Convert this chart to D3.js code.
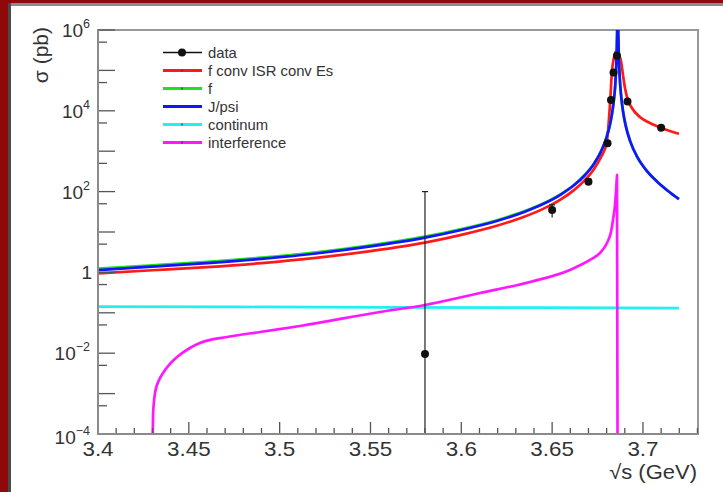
<!DOCTYPE html>
<html>
<head>
<meta charset="utf-8">
<script src="https://cdn.jsdelivr.net/npm/d3@7"></script>
<style>
  html, body { margin: 0; padding: 0; background: #fff; }
  svg { display: block; }
  text { font-family: "Liberation Sans", Arial, Helvetica, sans-serif; fill: #333; }
</style>
</head>
<body>
<svg id="chart" width="723" height="492"></svg>
<script>
// ---- measured cross sections (pb) ----
const dataX   = [3.58, 3.65, 3.67, 3.6805, 3.6824, 3.6838, 3.6857, 3.6915, 3.71];
const dataY   = [0.0095, 35, 176, 1570, 18500, 89000, 231000, 17000, 3820];
const dataErr = [100, 12, 30, 180, 1800, 7000, 16000, 1600, 450];

// ---- f conv ISR conv Es (red) ----
const fitX = [3.400, 3.430, 3.460, 3.490, 3.520, 3.550, 3.580, 3.600, 3.620, 3.635,
              3.645, 3.655, 3.662, 3.668, 3.673, 3.677, 3.680, 3.6820, 3.6829, 3.6840,
              3.6851, 3.6860, 3.6868, 3.6879, 3.6890, 3.6901, 3.6917, 3.6939, 3.6983, 3.7038,
              3.7097, 3.7148, 3.7198];
const fitY = [0.95, 1.13, 1.35, 1.70, 2.29, 3.37, 5.48, 8.51, 14.5, 24.2,
              37.3, 65.2, 109, 193, 359, 728, 1590, 18500, 91200, 203000,
              302000, 302000, 240000, 171000, 76900, 36600, 18500, 11700, 7030, 4990,
              3820, 3160, 2690];

// ---- f (green) ----
const fX = [3.400, 3.430, 3.460, 3.490, 3.520, 3.550, 3.580, 3.600, 3.620, 3.635,
            3.645, 3.655, 3.662, 3.668, 3.673, 3.677, 3.680, 3.682, 3.6835, 3.685,
            3.6855, 3.6858, 3.6861, 3.6864, 3.6867, 3.6872, 3.688, 3.689, 3.6905, 3.693,
            3.697, 3.702, 3.708, 3.714, 3.7198];
const fY = [1.24, 1.50, 1.83, 2.32, 3.14, 4.68, 7.65, 11.8, 19.9, 33.0,
            50.8, 88.3, 146, 258, 490, 1015, 2240, 4950, 12300, 68700,
            231000, 925000, 3000000, 925000, 231000, 68700, 23000, 9890, 4300, 1750,
            700, 329, 173, 102, 65];

// ---- J/psi (blue) ----
const jpsiX = [3.400, 3.430, 3.460, 3.490, 3.520, 3.550, 3.580, 3.600, 3.620, 3.635,
               3.645, 3.655, 3.662, 3.668, 3.673, 3.677, 3.680, 3.682, 3.6835, 3.685,
               3.6855, 3.6858, 3.6861, 3.6864, 3.6867, 3.6872, 3.688, 3.689, 3.6905, 3.693,
               3.697, 3.702, 3.708, 3.714, 3.7198];
const jpsiY = [1.14, 1.39, 1.70, 2.16, 2.94, 4.39, 7.23, 11.2, 19.0, 31.8,
               49.2, 85.9, 143, 254, 484, 1005, 2234, 4940, 12300, 68700,
               231000, 925000, 3000000, 925000, 231000, 68700, 23000, 9890, 4300, 1750,
               700, 329, 173, 102, 65];

// ---- continuum (cyan) ----
const contX = [3.400, 3.56, 3.7198];
const contY = [0.142, 0.137, 0.131];

// ---- interference (magenta) ----
const intfX = [3.4296, 3.4303, 3.4314, 3.4336, 3.4358, 3.4396, 3.4435, 3.4506, 3.4561, 3.4710,
               3.4892, 3.5112, 3.5552, 3.5800, 3.6103, 3.6378, 3.6598, 3.6708, 3.6763, 3.6802,
               3.6824, 3.6835, 3.6846, 3.6854, 3.6857, 3.6861];
const intfY = [1e-6, 2.95e-4, 1.04e-3, 2.17e-3, 3.24e-3, 5.41e-3, 8.05e-3, 0.01346, 0.01786, 0.0252,
               0.0335, 0.0471, 0.1047, 0.156, 0.309, 0.578, 1.15, 2.03, 3.02, 5.35,
               10, 19.8, 46.6, 146, 258, 1e-6];

// ---- axes ----
const xDomain = [3.4, 3.7303];
const yDomain = [1e-4, 1e6];
const xMajorTicks = [3.4, 3.45, 3.5, 3.55, 3.6, 3.65, 3.7];
const xTickLabels = ["3.4", "3.45", "3.5", "3.55", "3.6", "3.65", "3.7"];
const xMinorTicks = [3.41, 3.42, 3.43, 3.44, 3.46, 3.47, 3.48, 3.49, 3.51, 3.52, 3.53, 3.54,
                     3.56, 3.57, 3.58, 3.59, 3.61, 3.62, 3.63, 3.64, 3.66, 3.67, 3.68, 3.69,
                     3.71, 3.72, 3.73];
const yLabelExponents = [-4, -2, 0, 2, 4, 6];
const yDecadeExponents = [-4, -3, -2, -1, 0, 1, 2, 3, 4, 5, 6];

const legendNames = ["data", "f conv ISR conv Es", "f", "J/psi", "continum", "interference"];

// ---- layout ----
const svg = d3.select("#chart");
const W = 723, H = 492;
const plot = { left: 98, right: 698, top: 30, bottom: 434 };

const x = d3.scaleLinear().domain(xDomain).range([plot.left, plot.right]);
const y = d3.scaleLog().domain(yDomain).range([plot.bottom, plot.top]);

// page frame
svg.append("rect").attr("x", 0).attr("y", 0).attr("width", W).attr("height", H).attr("fill", "#fff");
svg.append("rect").attr("x", 0).attr("y", 0).attr("width", W).attr("height", 3).attr("fill", "#8e0a0a");
svg.append("rect").attr("x", 8).attr("y", 3).attr("width", W - 8).attr("height", 3).attr("fill", "#8c8c8c");
svg.append("rect").attr("x", 0).attr("y", 0).attr("width", 8).attr("height", H).attr("fill", "#8e0a0a");
svg.append("rect").attr("x", 8).attr("y", 3).attr("width", 3).attr("height", H - 3).attr("fill", "#4a4a4a");

svg.append("defs").append("clipPath").attr("id", "plotClip")
  .append("rect")
  .attr("x", plot.left).attr("y", plot.top)
  .attr("width", plot.right - plot.left).attr("height", plot.bottom - plot.top);

// frame box
svg.append("rect")
  .attr("x", plot.left).attr("y", plot.top)
  .attr("width", plot.right - plot.left).attr("height", plot.bottom - plot.top)
  .attr("fill", "none").attr("stroke", "#999").attr("stroke-width", 2);

// curves
const g = svg.append("g").attr("clip-path", "url(#plotClip)");
const line = d3.line()
  .x(d => x(d[0]))
  .y(d => y(d[1]))
  .curve(d3.curveMonotoneX);

const series = [
  { xs: fitX,  ys: fitY,  color: "#ff1a1a" },
  { xs: fX,    ys: fY,    color: "#1ee01e" },
  { xs: jpsiX, ys: jpsiY, color: "#1414ff" },
  { xs: contX, ys: contY, color: "#22f0f0" },
  { xs: intfX, ys: intfY, color: "#ff18ff" }
];
series.forEach(s => {
  g.append("path")
    .datum(s.xs.map((v, i) => [v, s.ys[i]]))
    .attr("d", line)
    .attr("fill", "none")
    .attr("stroke", s.color)
    .attr("stroke-width", 2.7)
    .attr("stroke-linejoin", "round");
});

// data points with error bars
const pts = dataX.map((v, i) => ({ x: v, y: dataY[i], e: dataErr[i] }));
const pg = g.append("g");
pts.forEach(p => {
  const lo = Math.max(p.y - p.e, 1e-7);
  const hi = p.y + p.e;
  pg.append("line")
    .attr("x1", x(p.x)).attr("x2", x(p.x))
    .attr("y1", y(lo)).attr("y2", y(hi))
    .attr("stroke", "#222").attr("stroke-width", 1.2);
  pg.append("line")
    .attr("x1", x(p.x) - 3).attr("x2", x(p.x) + 3)
    .attr("y1", y(hi)).attr("y2", y(hi))
    .attr("stroke", "#222").attr("stroke-width", 1.2);
  pg.append("circle")
    .attr("cx", x(p.x)).attr("cy", y(p.y)).attr("r", 4)
    .attr("fill", "#111");
});

// x axis ticks
const ax = svg.append("g").attr("stroke", "#555").attr("stroke-width", 1.3);
xMajorTicks.forEach(t => {
  ax.append("line").attr("x1", x(t)).attr("x2", x(t))
    .attr("y1", plot.bottom).attr("y2", plot.bottom - 12);
});
xMinorTicks.forEach(t => {
  ax.append("line").attr("x1", x(t)).attr("x2", x(t))
    .attr("y1", plot.bottom).attr("y2", plot.bottom - 6);
});
// y axis ticks
yDecadeExponents.forEach(e => {
  ax.append("line").attr("x1", plot.left).attr("x2", plot.left + 17)
    .attr("y1", y(Math.pow(10, e))).attr("y2", y(Math.pow(10, e)));
});
yDecadeExponents.slice(0, -1).forEach(e => {
  const v = 5 * Math.pow(10, e);
  ax.append("line").attr("x1", plot.left).attr("x2", plot.left + 9)
    .attr("y1", y(v)).attr("y2", y(v));
});
// axis lines
svg.append("line").attr("x1", plot.left).attr("x2", plot.right)
  .attr("y1", plot.bottom).attr("y2", plot.bottom)
  .attr("stroke", "#8a8a8a").attr("stroke-width", 2);
svg.append("line").attr("x1", plot.left).attr("x2", plot.left)
  .attr("y1", plot.top).attr("y2", plot.bottom)
  .attr("stroke", "#8a8a8a").attr("stroke-width", 2);

// x tick labels
xMajorTicks.forEach((t, i) => {
  svg.append("text")
    .attr("transform", `translate(${x(t)},456) scale(1.12,1)`)
    .attr("text-anchor", "middle")
    .attr("font-size", 20)
    .text(xTickLabels[i]);
});

// y tick labels
yLabelExponents.forEach((e, i) => {
  const ty = y(Math.pow(10, e)) + (i === 0 ? 10 : 7);
  const t = svg.append("text")
    .attr("x", e === 0 ? 92 : 90).attr("y", ty)
    .attr("text-anchor", "end")
    .attr("font-size", 19);
  if (e === 0) {
    t.text("1");
  } else {
    t.append("tspan").text("10");
    t.append("tspan").attr("dy", -9).attr("font-size", 12.5)
      .text(String(e).replace("-", "\u2212"));
  }
});

// axis titles
svg.append("text")
  .attr("transform", "translate(697,479) scale(1.1,1)")
  .attr("text-anchor", "end")
  .attr("font-size", 20)
  .text("\u221As (GeV)");
svg.append("text")
  .attr("transform", "translate(48,27) rotate(-90)")
  .attr("text-anchor", "end")
  .attr("font-size", 21)
  .text("\u03C3 (pb)");

// legend
const legColors = ["#111", "#ff1a1a", "#1ee01e", "#1414ff", "#22f0f0", "#ff18ff"];
const leg = svg.append("g");
legendNames.forEach((name, i) => {
  const ly = 52.5 + i * 18;
  leg.append("line").attr("x1", 163).attr("x2", 202).attr("y1", ly).attr("y2", ly)
    .attr("stroke", legColors[i]).attr("stroke-width", i === 0 ? 1.3 : 3);
  if (i === 0) {
    leg.append("circle").attr("cx", 182).attr("cy", ly).attr("r", 4).attr("fill", "#111");
  } else {
    leg.append("rect").attr("x", 181).attr("y", ly - 1).attr("width", 2).attr("height", 2)
      .attr("fill", "#333").attr("opacity", 0.6);
  }
  leg.append("text")
    .attr("transform", `translate(208,${ly + 5}) scale(1.06,1)`)
    .attr("font-size", 14)
    .attr("fill", "#444")
    .text(name);
});
</script>
</body>
</html>
